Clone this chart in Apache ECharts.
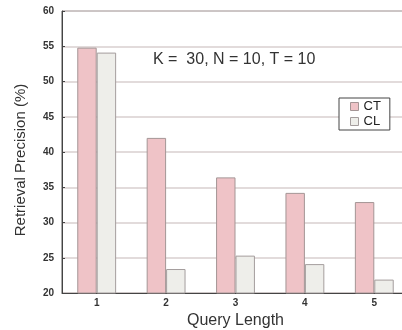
<!DOCTYPE html>
<html><head><meta charset="utf-8">
<script src="https://cdn.jsdelivr.net/npm/echarts@6/dist/echarts.min.js"></script>
<style>html,body{margin:0;padding:0;background:#fff}#c{width:402px;height:330px}</style>
</head><body><div id="c"></div>
<script>
var categories = ['1', '2', '3', '4', '5'];
var ctValues = [54.8, 42.0, 36.4, 34.2, 32.9];
var clValues = [54.1, 23.4, 25.3, 24.1, 21.9];
var seriesNames = ['CT', 'CL'];
var yTicks = { min: 20, max: 60, interval: 5 };
var annotation = 'K =  30, N = 10, T = 10';

var chart = echarts.init(document.getElementById('c'), null, { renderer: 'canvas' });
var font = 'Liberation Sans, Arial, sans-serif';
chart.setOption({
  animation: false,
  backgroundColor: '#fff',
  grid: { left: 62, top: 11, bottom: 37, right: -7, containLabel: false, outerBoundsMode: 'none',
    show: true, borderColor: '#555', borderWidth: 1, backgroundColor: 'transparent' },
  legend: {
    data: seriesNames, orient: 'vertical', left: 339, top: 98,
    icon: 'rect',
    itemWidth: 8, itemHeight: 8, itemGap: 2,
    padding: [2, 9, 2, 11],
    backgroundColor: '#fff', borderColor: '#444', borderWidth: 1,
    textStyle: { fontFamily: font, fontSize: 13, color: '#222' },
    itemStyle: { borderWidth: 1 }
  },
  graphic: [{ type: 'text', left: 153, top: 52, z: 10,
    style: { text: annotation, font: '16px ' + font, fill: '#333' } }],
  xAxis: {
    type: 'category', data: categories,
    name: 'Query Length', nameLocation: 'middle', nameGap: 8,
    nameTextStyle: { fontFamily: font, fontSize: 16, color: '#333' },
    axisLine: { lineStyle: { color: '#444' } },
    axisTick: { inside: true, length: 4, lineStyle: { color: '#444' } },
    axisLabel: { fontFamily: font, fontSize: 10, fontWeight: 'bold', color: '#333', margin: 5 }
  },
  yAxis: {
    type: 'value', min: yTicks.min, max: yTicks.max, interval: yTicks.interval,
    name: 'Retrieval Precision (%)', nameLocation: 'middle', nameGap: 34, nameRotate: 90,
    nameTextStyle: { fontFamily: font, fontSize: 15, color: '#333', padding: [0, 16, 0, 0] },
    axisLine: { show: true, lineStyle: { color: '#444' } },
    axisTick: { show: true, inside: true, length: 3, lineStyle: { color: '#444' } },
    axisLabel: { fontFamily: font, fontSize: 10, fontWeight: 'bold', color: '#333', margin: 8 },
    splitLine: { lineStyle: { color: '#d8cfcf', width: 1.5 } }
  },
  series: [
    { name: seriesNames[0], type: 'bar', data: ctValues, barGap: '0%', barCategoryGap: '44%',
      itemStyle: { color: '#efc3c7', borderColor: '#a49595', borderWidth: 1 } },
    { name: seriesNames[1], type: 'bar', data: clValues,
      itemStyle: { color: '#eeeeea', borderColor: '#a49d9d', borderWidth: 1 } }
  ]
});
</script></body></html>
